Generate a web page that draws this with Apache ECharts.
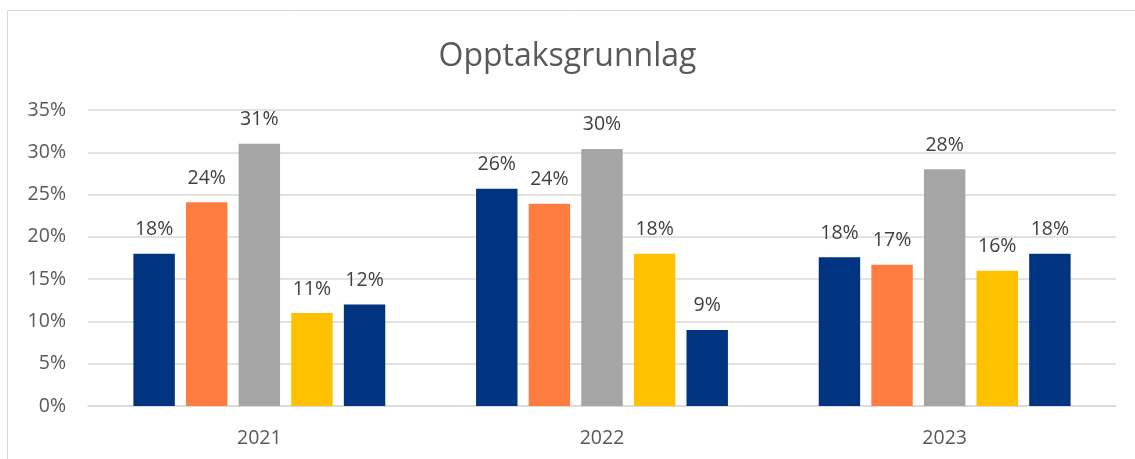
<!DOCTYPE html>
<html><head><meta charset="utf-8">
<script src="https://cdn.jsdelivr.net/npm/echarts@6/dist/echarts.min.js"></script>
<style>html,body{margin:0;padding:0;background:#fff}#c{width:1135px;height:459px}</style>
</head><body><div id="c"></div>
<script>
const categories = ['2021', '2022', '2023'];
const seriesA = [18.0, 25.7, 17.6];
const seriesB = [24.1, 23.9, 16.7];
const seriesC = [31.0, 30.4, 28.0];
const seriesD = [11.0, 18.0, 16.0];
const seriesE = [12.0, 9.0, 18.0];
const colors = ['#003380', '#FF7C40', '#A5A5A5', '#FFC000', '#003380'];
const yTicks = [0, 5, 10, 15, 20, 25, 30, 35];

const chart = echarts.init(document.getElementById('c'));
const font = '"Open Sans", sans-serif';
const mk = (data, i) => ({
  type: 'bar', data, itemStyle: { color: colors[i] },
  barGap: '27%', barCategoryGap: '26.5%',
  label: { show: true, position: 'top', distance: 14, color: '#404040',
    fontFamily: font, fontSize: 19.5, formatter: p => Math.round(p.value) + '%' }
});
chart.setOption({
  animation: false,
  title: { text: 'Opptaksgrunnlag', left: 'center', top: 36,
    textStyle: { fontFamily: font, fontSize: 32, fontWeight: 'normal', color: '#595959' } },
  graphic: [{ type: 'rect', shape: { x: 7.5, y: 10.5, width: 1140, height: 460 },
    style: { fill: 'none', stroke: '#d9d9d9', lineWidth: 1 }, silent: true }],
  grid: { left: 88, right: 19, top: 110, bottom: 53 },
  xAxis: { type: 'category', data: categories,
    axisLine: { lineStyle: { color: '#d9d9d9', width: 1.5 } }, axisTick: { show: false },
    axisLabel: { color: '#595959', fontFamily: font, fontSize: 19.5, margin: 22 } },
  yAxis: { type: 'value', min: yTicks[0], max: yTicks[yTicks.length - 1], interval: 5,
    axisLine: { show: false }, axisTick: { show: false },
    splitLine: { lineStyle: { color: '#d9d9d9', width: 1.5 } },
    axisLabel: { color: '#595959', fontFamily: font, fontSize: 19.5, margin: 22, formatter: v => v + '%' } },
  series: [mk(seriesA, 0), mk(seriesB, 1), mk(seriesC, 2), mk(seriesD, 3), mk(seriesE, 4)]
});
</script></body></html>
